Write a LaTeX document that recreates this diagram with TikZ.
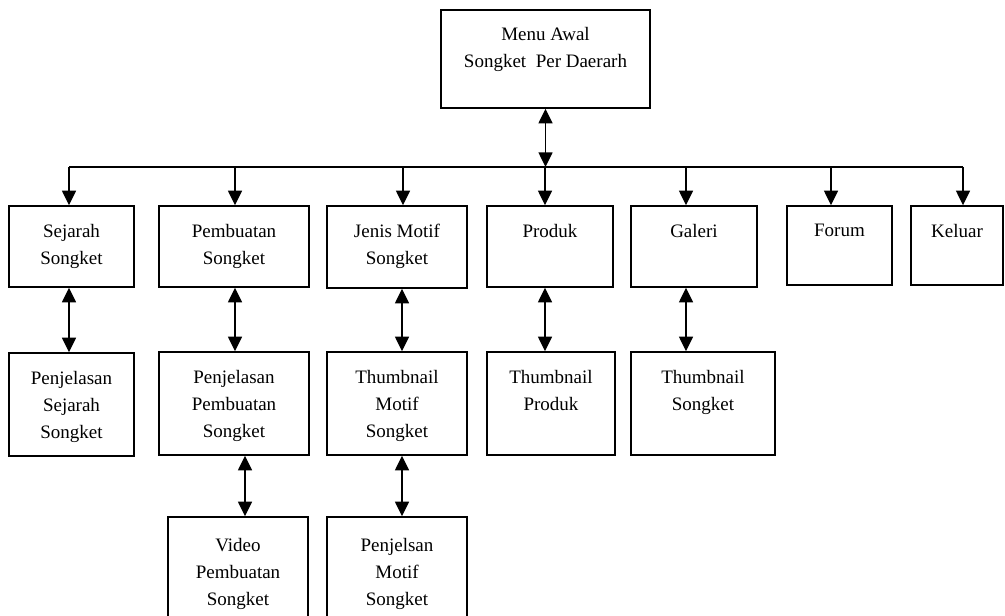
\documentclass[tikz,border=0pt]{standalone}
\usepackage{fontspec}
\setmainfont{Liberation Serif}
\usetikzlibrary{fit,arrows.meta}
\tikzset{
  box/.style={draw, line width=1.1pt, inner sep=0pt, rectangle},
  txt/.style={align=center, inner sep=0pt, anchor=north, font=\fontsize{14.25}{20.25}\selectfont},
  conn/.style={line width=1.1pt},
  arr/.style={conn, -{Triangle[width=10.5pt,length=11pt]}},
  dbl/.style={conn, {Triangle[width=10.5pt,length=11pt]}-{Triangle[width=10.5pt,length=11pt]}}
}
\newcommand\boxnode[7]{%
  \node[box, fit={(#2,#3) (#4,#5)}] (#1) {};
  \node[txt] (#1-t) at ([yshift=#6]#1.north) {#7};}
\begin{document}
\begin{tikzpicture}[x=0.75pt,y=-0.75pt]
\clip (0,0) rectangle (1005,616);
\fill[white] (0,0) rectangle (1005,616);
% top
\boxnode{menu}{441}{10}{650}{108}{-13pt}{Menu Awal\\Songket~ Per Daerarh}
% row 1
\boxnode{sej}{9}{206}{134}{287}{-14pt}{Sejarah\\Songket}
\boxnode{pem}{159}{206}{309}{287}{-14pt}{Pembuatan\\Songket}
\boxnode{jen}{327}{206}{467}{288}{-14pt}{Jenis Motif\\Songket}
\boxnode{pro}{487}{206}{613}{287}{-14pt}{Produk}
\boxnode{gal}{631}{206}{757}{287}{-14pt}{Galeri}
\boxnode{for}{787}{206}{892}{285}{-14pt}{Forum}
\boxnode{kel}{911}{206}{1003}{285}{-14pt}{Keluar}
% row 2
\boxnode{psej}{9}{353}{134}{456}{-14pt}{Penjelasan\\Sejarah\\Songket}
\boxnode{ppem}{159}{352}{309}{455}{-14pt}{Penjelasan\\Pembuatan\\Songket}
\boxnode{tmot}{327}{352}{467}{455}{-14pt}{Thumbnail\\Motif\\Songket}
\boxnode{tpro}{487}{352}{615}{455}{-14pt}{Thumbnail\\Produk}
\boxnode{tson}{631}{352}{775}{455}{-14pt}{Thumbnail\\Songket}
% row 3
\boxnode{vid}{168}{517}{308}{640}{-16.5pt}{Video\\Pembuatan\\Songket}
\boxnode{pmot}{327}{517}{467}{640}{-16.5pt}{Penjelsan\\Motif\\Songket}
% bus
\coordinate (busL) at (69,167);
\coordinate (busR) at (963,167);
\draw[conn] (busL) -- (busR);
\draw[dbl] (menu.south) -- (menu.south |- busL);
\draw[arr] (69,0 |- busL) -- (69,0 |- sej.north);
\draw[arr] (235,0 |- busL) -- (235,0 |- pem.north);
\draw[arr] (403,0 |- busL) -- (403,0 |- jen.north);
\draw[arr] (545,0 |- busL) -- (545,0 |- pro.north);
\draw[arr] (686,0 |- busL) -- (686,0 |- gal.north);
\draw[arr] (831,0 |- busL) -- (831,0 |- for.north);
\draw[arr] (963,0 |- busL) -- (963,0 |- kel.north);
% row 1 to row 2
\draw[dbl] (69,0 |- sej.south) -- (69,0 |- psej.north);
\draw[dbl] (235,0 |- pem.south) -- (235,0 |- ppem.north);
\draw[dbl] (402,0 |- jen.south) -- (402,0 |- tmot.north);
\draw[dbl] (545,0 |- pro.south) -- (545,0 |- tpro.north);
\draw[dbl] (686,0 |- gal.south) -- (686,0 |- tson.north);
% row 2 to row 3
\draw[dbl] (245,0 |- ppem.south) -- (245,0 |- vid.north);
\draw[dbl] (402,0 |- tmot.south) -- (402,0 |- pmot.north);
\end{tikzpicture}
\end{document}
